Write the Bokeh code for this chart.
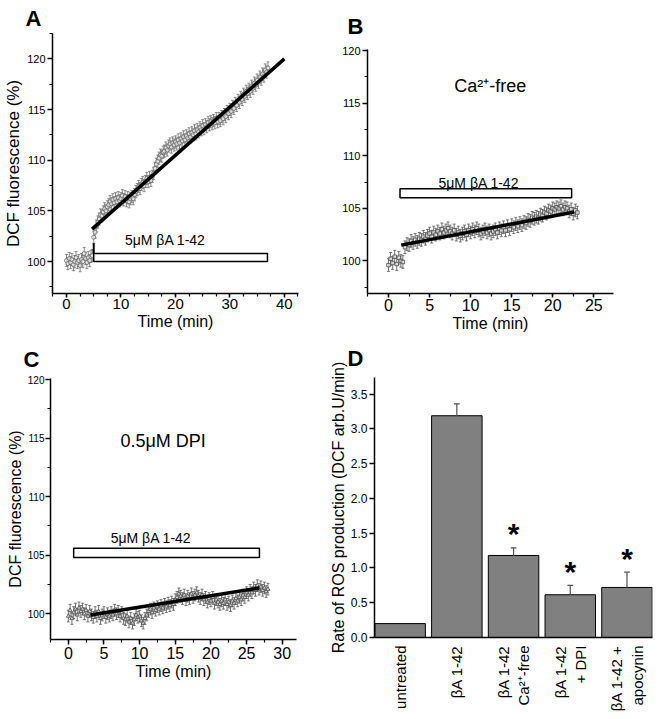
import numpy as np
from math import pi
from bokeh.plotting import figure
from bokeh.layouts import row, column
from bokeh.models import (Range1d, Label, Whisker, ColumnDataSource, TeeHead,
                          SingleIntervalTicker, FixedTicker, NumeralTickFormatter)
from bokeh.embed import file_html
from bokeh.resources import INLINE

FONT = "Liberation Sans"

# ---------------- data ----------------
# Panel A: DCF fluorescence (%), sampled every a_dt minutes from t=0
a_dt = 0.25
a_fluor = [
    100.1, 99.8, 100.3, 99.9, 100.2, 99.7, 100.0, 100.4,
    99.9, 100.1, 99.6, 100.2, 100.0, 100.8, 100.3, 99.9,
    100.4, 100.1, 100.5, 100.6, 102.4, 102.9, 103.5, 103.9,
    104.2, 104.6, 104.5, 104.9, 105.2, 105.0, 105.4, 105.6,
    105.9, 105.7, 106.1, 105.8, 106.2, 105.9, 106.3, 106.0,
    106.2, 106.5, 106.1, 106.4, 106.0, 106.3, 105.9, 106.2,
    106.4, 106.2, 106.6, 106.9, 107.1, 107.4, 107.2, 107.6,
    107.8, 107.5, 107.9, 108.2, 107.9, 108.3, 108.0, 108.4,
    108.7, 109.2, 109.6, 109.9, 110.2, 110.5, 110.4, 110.8,
    110.9, 111.2, 111.0, 111.4, 111.6, 111.3, 111.7, 111.5,
    111.8, 111.6, 112.0, 111.7, 112.1, 111.9, 112.3, 112.0,
    112.4, 112.2, 112.6, 112.3, 112.7, 112.5, 112.9, 112.6,
    113.0, 112.8, 113.2, 113.0, 113.4, 113.1, 113.5, 113.3,
    113.7, 113.5, 113.8, 113.6, 113.9, 113.7, 114.1, 113.8,
    114.1, 113.9, 114.3, 114.1, 114.5, 114.3, 114.8, 114.6,
    115.0, 114.8, 115.3, 115.1, 115.6, 115.4, 115.9, 115.7,
    116.2, 116.0, 116.5, 116.3, 116.8, 116.6, 117.0, 116.8,
    117.3, 117.1, 117.6, 117.4, 117.9, 117.7, 118.2, 118.0,
    118.5, 118.3, 118.9, 118.7, 119.1,
]
a_sem = 0.6
a_fit_t = [4.7, 40.0]
a_fit_y = [103.2, 120.0]
a_stim = [5.0, 36.9]          # application of 5 uM bA 1-42 (min)

# Panel B: Ca2+-free
b_dt = 0.25
b_fluor = [
    99.6, 100.2, 99.8, 100.4, 99.7, 100.3, 100.0, 99.9,
    101.3, 101.6, 101.5, 101.9, 101.7, 102.0, 101.8, 102.1,
    102.0, 102.3, 102.1, 102.4, 102.6, 102.3, 102.7, 102.5,
    102.8, 102.6, 103.0, 102.7, 102.9, 103.1, 102.8, 102.6,
    102.9, 102.5, 102.7, 102.4, 102.6, 102.8, 102.5, 102.9,
    102.7, 103.0, 102.8, 103.1, 102.9, 102.6, 102.8, 103.0,
    102.7, 102.9, 102.6, 102.8, 103.0, 102.7, 103.1, 102.9,
    103.2, 102.9, 103.3, 103.0, 103.4, 103.2, 103.5, 103.3,
    103.6, 103.4, 103.7, 103.6, 103.9, 103.8, 104.1, 104.0,
    104.2, 104.1, 104.4, 104.3, 104.6, 104.5, 104.8, 104.7,
    105.0, 104.9, 105.1, 105.0, 105.2, 104.9, 105.1, 105.0,
    104.7, 104.9, 104.5, 104.8, 104.6,
]
b_sem = 0.6
b_fit_t = [1.55, 22.6]
b_fit_y = [101.5, 104.65]
b_stim = [1.4, 22.3]

# Panel C: 0.5 uM DPI
c_dt = 0.25
c_fluor = [
    99.8, 100.3, 99.6, 100.1, 100.4, 99.9, 100.5, 100.2,
    100.4, 100.0, 100.3, 99.8, 100.2, 99.9, 99.7, 100.1,
    99.8, 100.2, 99.6, 99.9, 100.1, 99.7, 100.0, 99.8,
    100.1, 99.9, 100.3, 100.0, 100.2, 99.8, 100.1, 99.6,
    99.5, 99.8, 99.3, 99.6, 99.2, 99.5, 99.9, 99.7,
    99.8, 99.4, 99.2, 99.6, 99.9, 100.2, 100.4, 100.1,
    100.5, 100.3, 100.6, 100.4, 100.7, 100.5, 100.8, 100.6,
    100.9, 100.7, 101.0, 100.8, 101.2, 101.4, 101.7, 101.5,
    101.3, 101.6, 101.2, 101.5, 101.3, 101.7, 101.4, 101.6,
    101.8, 101.5, 101.3, 101.6, 101.2, 101.4, 101.0, 101.3,
    101.1, 101.4, 100.9, 101.2, 101.0, 100.8, 101.1, 100.9,
    101.2, 100.8, 101.0, 100.7, 101.1, 100.9, 101.3, 101.1,
    101.4, 101.2, 101.6, 101.4, 101.8, 101.6, 102.0, 101.8,
    102.2, 102.0, 102.4, 102.1, 102.3, 102.0, 102.2, 101.9,
    102.1,
]
c_sem = 0.5
c_fit_t = [3.1, 26.8]
c_fit_y = [99.9, 102.2]
c_stim = [0.75, 26.8]

# Panel D: rate of ROS production
d_categories = ["untreated", "βA 1-42", "βA 1-42\nCa²⁺-free",
                "βA 1-42\n+ DPI", "βA 1-42 +\napocynin"]
d_rate = [0.20, 3.19, 1.18, 0.615, 0.72]
d_err = [0.0, 0.17, 0.11, 0.135, 0.22]
d_signif = [False, False, True, True, True]

# ---------------- helpers ----------------
def style_axis(ax, tick_size):
    ax.axis_line_color = "black"
    ax.axis_line_width = 1.5
    ax.major_tick_line_color = "black"
    ax.major_tick_line_width = 1.5
    ax.major_tick_out = 5
    ax.major_tick_in = 0
    ax.minor_tick_line_color = "black"
    ax.minor_tick_line_width = 1.2
    ax.minor_tick_out = 3
    ax.minor_tick_in = 0
    ax.major_label_text_font = FONT
    ax.major_label_text_font_size = tick_size
    ax.major_label_text_color = "black"
    ax.major_label_standoff = 2
    ax.axis_label_text_font = FONT
    ax.axis_label_text_font_style = "normal"
    ax.axis_label_text_font_size = "16px"
    ax.axis_label_text_color = "black"
    ax.axis_label_standoff = 1


def make_fig(w, h, xr, yr, borders, letter, letter_offset, letter_standoff):
    l, r, t, b = borders
    p = figure(width=w, height=h, x_range=Range1d(*xr), y_range=Range1d(*yr),
               output_backend="svg", toolbar_location=None,
               min_border_left=l, min_border_right=r,
               min_border_top=t, min_border_bottom=b)
    p.grid.visible = False
    p.outline_line_color = None
    p.background_fill_color = "white"
    p.border_fill_color = "white"
    p.title.text = letter
    p.title.text_font = FONT
    p.title.text_font_size = "22px"
    p.title.text_font_style = "bold"
    p.title.text_color = "black"
    p.title.align = "left"
    p.title.offset = letter_offset
    p.title.standoff = letter_standoff
    return p


def label(p, x, y, text, size, bold=False):
    p.add_layout(Label(x=x, y=y, text=text, text_font=FONT, text_font_size=size,
                       text_font_style="bold" if bold else "normal",
                       text_align="center", text_baseline="middle",
                       text_color="black"))


def add_trace(p, dt, vals, sem, marker, color, size):
    t = dt * np.arange(len(vals))
    y = np.array(vals)
    src = ColumnDataSource(dict(t=t, y=y, lo=y - sem, hi=y + sem))
    w = Whisker(source=src, base="t", lower="lo", upper="hi",
                line_color=color, line_width=0.8,
                upper_head=TeeHead(size=3, line_color=color, line_width=0.8),
                lower_head=TeeHead(size=3, line_color=color, line_width=0.8))
    p.add_layout(w)
    p.scatter("t", "y", source=src, marker=marker, size=size,
              fill_color="white", fill_alpha=0.6, line_color=color, line_width=0.9)


def add_stim(p, stim, bottom, top):
    p.quad(left=[stim[0]], right=[stim[1]], bottom=[bottom], top=[top],
           fill_color="white", line_color="black", line_width=1.5)


W1, W2 = 326, 338
H1, H2 = 337, 381

# ---------------- Panel A ----------------
pA = make_fig(W1, H1, (-2.57, 42.6), (96.85, 122.5), (52, 28, 33, 44), "A", -27, 6)
style_axis(pA.xaxis[0], "15px")
style_axis(pA.yaxis[0], "11px")
pA.xaxis.ticker = SingleIntervalTicker(interval=10, num_minor_ticks=4)
pA.yaxis.ticker = SingleIntervalTicker(interval=5, num_minor_ticks=2)
pA.xaxis.axis_label = "Time (min)"
pA.xaxis.major_tick_out = 4
pA.xaxis.major_label_standoff = 1
pA.yaxis.axis_label = "DCF fluorescence (%)"
pA.yaxis.axis_label_text_font_size = "17px"
add_trace(pA, a_dt, a_fluor, a_sem, "circle", "#707070", 4)
pA.line(a_fit_t, a_fit_y, line_width=3.5, color="black")
add_stim(pA, a_stim, 100.0, 100.8)
pA.segment(x0=[a_stim[0]], y0=[100.8], x1=[a_stim[0]], y1=[101.8],
           line_color="black", line_width=2)
label(pA, 18.5, 102.1, "5μM  βA 1-42", "14px")

# ---------------- Panel B ----------------
pB = make_fig(W2, H1, (-2.56, 27.4), (96.9, 120.1), (41, 51, 49, 44), "B", -20, 22)
style_axis(pB.xaxis[0], "16px")
style_axis(pB.yaxis[0], "11px")
pB.xaxis.ticker = SingleIntervalTicker(interval=5, num_minor_ticks=2)
pB.yaxis.ticker = SingleIntervalTicker(interval=5, num_minor_ticks=2)
pB.xaxis.axis_label = "Time (min)"
pB.xaxis.major_tick_out = 4
pB.xaxis.major_label_standoff = 1
add_trace(pB, b_dt, b_fluor, b_sem, "square", "#555555", 3.5)
pB.line(b_fit_t, b_fit_y, line_width=3.5, color="black")
add_stim(pB, b_stim, 106.0, 106.85)
label(pB, 11.0, 107.4, "5μM βA 1-42", "14px")
label(pB, 12.4, 116.6, "Ca²⁺-free", "18px")

# ---------------- Panel C ----------------
pC = make_fig(W1, H2, (-2.5, 32.0), (97.8, 120.1), (50, 30, 41, 79), "C", -27, 14)
style_axis(pC.xaxis[0], "16px")
style_axis(pC.yaxis[0], "10px")
pC.xaxis.ticker = SingleIntervalTicker(interval=5, num_minor_ticks=2)
pC.yaxis.ticker = SingleIntervalTicker(interval=5, num_minor_ticks=2)
pC.yaxis.major_label_standoff = 1
pC.xaxis.axis_label = "Time (min)"
pC.yaxis.axis_label = "DCF fluorescence (%)"
add_trace(pC, c_dt, c_fluor, c_sem, "triangle", "#555555", 4)
pC.line(c_fit_t, c_fit_y, line_width=3.5, color="black")
add_stim(pC, c_stim, 104.8, 105.6)
label(pC, 11.6, 106.5, "5μM βA 1-42", "14px")
label(pC, 13.3, 114.8, "0.5μM DPI", "18px")

# ---------------- Panel D ----------------
pD = make_fig(W2, H2, (0.548, 5.45), (0.0, 3.74), (44, 12, 40, 81), "D", -27, 13)
style_axis(pD.xaxis[0], "15px")
style_axis(pD.yaxis[0], "12px")
pos = np.arange(1, len(d_categories) + 1)
pD.xaxis.ticker = FixedTicker(ticks=list(pos))
pD.xaxis.major_label_overrides = {int(x): c for x, c in zip(pos, d_categories)}
pD.xaxis.major_label_orientation = pi / 2
pD.xaxis.major_tick_line_color = None
pD.xaxis.major_label_standoff = 3
pD.yaxis.ticker = SingleIntervalTicker(interval=0.5, num_minor_ticks=0)
pD.yaxis.formatter = NumeralTickFormatter(format="0.0")
pD.yaxis.axis_label = "Rate of ROS production (DCF arb.U/min)"
rate = np.array(d_rate)
err = np.array(d_err)
pD.vbar(x=pos, top=rate, width=0.89, bottom=0, fill_color="#808080",
        line_color="black", line_width=1)
has_err = err > 0
pD.segment(x0=pos[has_err], y0=rate[has_err], x1=pos[has_err], y1=(rate + err)[has_err],
           line_color="#505050", line_width=1.2)
pD.segment(x0=pos[has_err] - 0.05, y0=(rate + err)[has_err], x1=pos[has_err] + 0.05,
           y1=(rate + err)[has_err], line_color="#505050", line_width=1.2)
for i, s in enumerate(d_signif):
    if s:
        label(pD, pos[i], rate[i] + err[i] + 0.2, "*", "30px", bold=True)

layout = column(row(column(pA), column(pB)), row(column(pC), column(pD)))
open("out.html", "w").write(file_html(layout, INLINE))
